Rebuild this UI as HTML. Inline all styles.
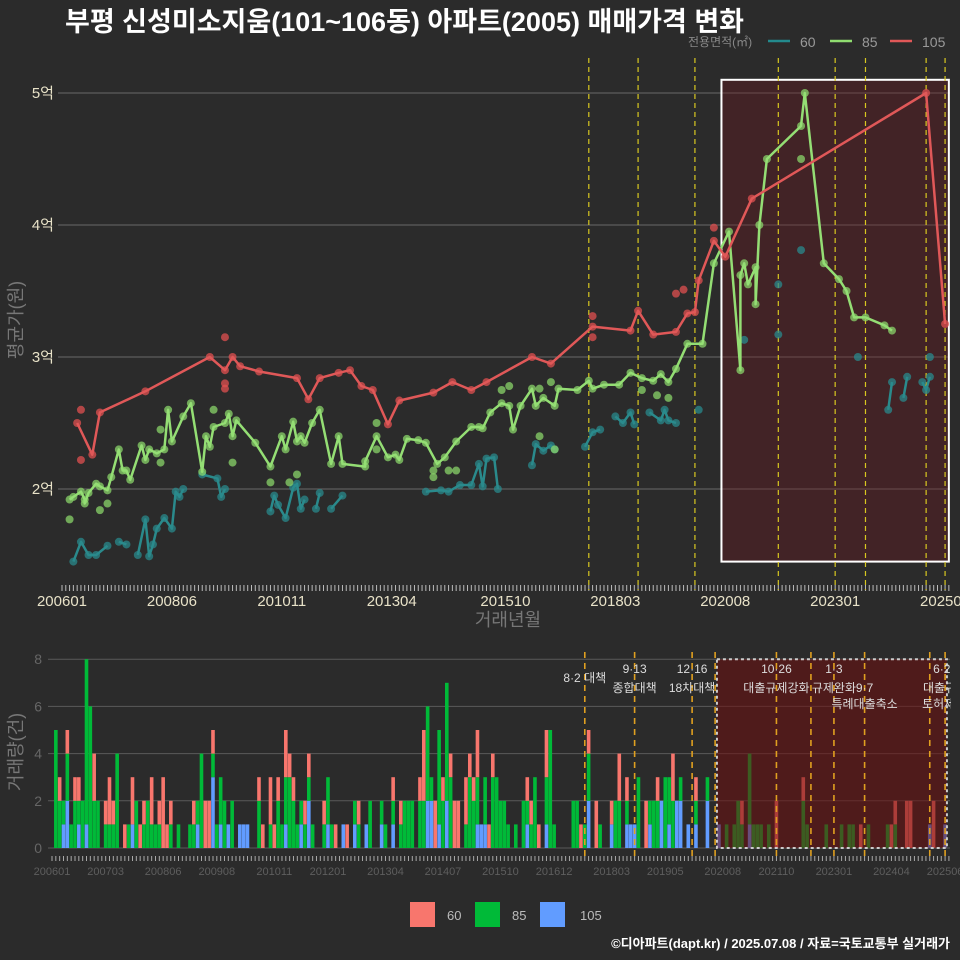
<!DOCTYPE html>
<html><head><meta charset="utf-8">
<style>
html,body{margin:0;padding:0;background:#2b2b2b;}
svg{display:block;font-family:"Liberation Sans","Noto Sans CJK KR",sans-serif;}
</style></head>
<body>
<svg id="chart" width="960" height="960" viewBox="0 0 960 960" xmlns="http://www.w3.org/2000/svg">
<rect x="0" y="0" width="960" height="960" fill="#2b2b2b"/>
<text x="65" y="31" fill="#ffffff" font-size="27" font-weight="bold">부평 신성미소지움(101~106동) 아파트(2005) 매매가격 변화</text>
<g>
<text x="688" y="46" fill="#888" font-size="12">전용면적(㎡)</text>
<line x1="768" y1="41" x2="790" y2="41" stroke="#238a8d" stroke-width="2.5"/>
<text x="800" y="47" fill="#999" font-size="14">60</text>
<line x1="830" y1="41" x2="852" y2="41" stroke="#90dc70" stroke-width="2.5"/>
<text x="862" y="47" fill="#999" font-size="14">85</text>
<line x1="890" y1="41" x2="912" y2="41" stroke="#e05858" stroke-width="2.5"/>
<text x="922" y="47" fill="#999" font-size="14">105</text>
</g>
<g id="topPanel"></g>
<g id="bottomPanel"></g>
<text transform="translate(22,320) rotate(-90)" text-anchor="middle" fill="#777" font-size="18">평균가(원)</text>
<text x="508" y="626" text-anchor="middle" fill="#777" font-size="18">거래년월</text>
<text transform="translate(22,752) rotate(-90)" text-anchor="middle" fill="#777" font-size="18">거래량(건)</text>
<g>
<rect x="410" y="902" width="25" height="25" fill="#F8766D"/>
<text x="447" y="920" fill="#bbb" font-size="13">60</text>
<rect x="475" y="902" width="25" height="25" fill="#00BA38"/>
<text x="512" y="920" fill="#bbb" font-size="13">85</text>
<rect x="540" y="902" width="25" height="25" fill="#619CFF"/>
<text x="580" y="920" fill="#bbb" font-size="13">105</text>
</g>
<text x="950" y="948" text-anchor="end" fill="#fff" font-size="13" font-weight="bold">©디아파트(dapt.kr) / 2025.07.08 / 자료=국토교통부 실거래가</text>
</svg>
<script>
// ---- price data (month index from 2006-01, value in 억) ----
const redMonths = [4,8,10,22,39,43,45,47,52,62,65,68,73,76,79,82,86,89,98,103,108,112,124,129,140,150,152,156,162,165,167,168,172,175,182,228,233];
const redValues = [2.50,2.26,2.58,2.74,3.00,2.90,3.00,2.93,2.89,2.84,2.68,2.84,2.88,2.90,2.78,2.75,2.49,2.67,2.73,2.81,2.75,2.81,3.00,2.95,3.23,3.20,3.35,3.17,3.19,3.33,3.34,3.58,3.88,3.76,4.20,5.00,3.25];
const redExtraMonths = [5,5,43,43,43,140,140,162,164,172];
const redExtraValues = [2.60,2.22,3.15,2.80,2.76,3.31,3.15,3.48,3.51,3.98];

const greenMonths = [2,3,5,6,6,7,9,10,12,13,15,16,17,18,21,22,23,25,27,28,29,32,34,37,38,39,40,43,44,45,46,51,55,58,59,61,62,63,64,66,68,71,73,74,80,80,83,86,88,89,91,94,96,99,101,104,108,110,111,113,116,118,119,121,124,125,127,130,131,136,139,140,143,147,150,153,156,158,160,162,165,169,172,176,179,179,180,181,183,183,184,186,195,196,201,205,207,209,212,217,219];
const greenValues = [1.92,1.94,1.98,1.92,1.89,1.97,2.04,2.02,1.99,2.09,2.30,2.14,2.14,2.07,2.33,2.22,2.30,2.27,2.30,2.60,2.36,2.55,2.65,2.13,2.40,2.32,2.47,2.50,2.57,2.40,2.52,2.35,2.17,2.40,2.30,2.51,2.36,2.40,2.35,2.50,2.60,2.19,2.40,2.19,2.17,2.21,2.40,2.24,2.26,2.22,2.38,2.37,2.35,2.19,2.24,2.36,2.47,2.47,2.46,2.58,2.65,2.63,2.45,2.63,2.76,2.63,2.69,2.63,2.76,2.75,2.82,2.76,2.79,2.79,2.88,2.84,2.82,2.87,2.81,2.91,3.10,3.10,3.71,3.95,2.90,3.62,3.71,3.55,3.68,3.40,4.00,4.50,4.75,5.00,3.71,3.59,3.50,3.30,3.30,3.24,3.20];
const greenExtraMonths = [2,10,12,26,26,40,45,55,60,62,83,83,98,98,102,104,116,118,126,129,126,130,153,157,160,195];
const greenExtraValues = [1.77,1.84,1.89,2.45,2.20,2.60,2.20,2.05,2.05,2.11,2.50,2.30,2.14,2.09,2.14,2.14,2.75,2.78,2.76,2.81,2.40,2.30,2.75,2.71,2.69,4.50];

// teal series: null separates segments
const tealMonths = [3,5,7,9,12,null,15,17,null,20,22,23,24,25,27,29,30,31,32,null,37,41,42,43,null,55,56,57,59,61,62,63,64,null,67,68,null,71,74,null,96,100,102,105,108,110,111,112,114,115,null,124,125,127,129,130,null,138,140,142,null,146,148,150,151,null,155,158,159,160,162,null,218,219,null,222,223,null,227,228,229];
const tealValues = [1.45,1.60,1.50,1.50,1.57,null,1.60,1.58,null,1.50,1.77,1.49,1.58,1.70,1.78,1.70,1.98,1.94,2.00,null,2.11,2.08,1.94,2.00,null,1.83,1.95,1.88,1.78,2.01,2.04,1.85,1.92,null,1.85,1.97,null,1.85,1.95,null,1.98,1.99,1.98,2.03,2.03,2.19,2.02,2.23,2.24,2.00,null,2.18,2.34,2.29,2.33,2.30,null,2.32,2.43,2.45,null,2.55,2.50,2.58,2.49,null,2.58,2.52,2.60,2.52,2.50,null,2.60,2.81,null,2.69,2.85,null,2.81,2.75,2.85];
const tealExtraMonths = [168,189,189,195,210,229,180];
const tealExtraValues = [2.60,3.55,3.17,3.81,3.00,3.00,3.13];

const priceTicks = [2,3,4,5];
const priceTickLabels = ["2억","3억","4억","5억"];
const topXLabels = ["200601","200806","201011","201304","201510","201803","202008","202301","202506"];
const policyMonthsTop = [139,152,167,189,204,212,228,233];

// ---- volume data ----
const volMonths = [1,2,3,4,5,6,7,8,9,10,11,12,14,15,16,17,19,20,21,22,23,24,25,26,27,28,29,30,31,33,36,37,38,39,40,41,42,43,44,45,46,47,49,50,51,54,55,57,58,59,60,61,62,63,64,65,66,67,68,71,72,73,74,76,77,79,80,82,83,86,87,89,91,92,93,94,96,97,98,99,100,101,102,103,104,105,106,108,109,110,111,112,113,114,115,116,117,118,119,121,123,124,125,126,127,129,130,131,136,137,138,139,140,142,143,146,147,148,150,151,152,153,155,156,157,158,159,160,161,162,163,164,166,168,171,174,176,178,179,180,182,183,184,185,187,189,196,197,202,206,208,209,211,213,218,219,220,223,224,229,230,233];
const vol60  = [0,1,0,1,0,1,1,0,0,0,2,0,1,2,1,0,1,0,2,0,1,1,0,2,0,1,3,1,1,0,0,1,0,0,2,2,1,0,0,0,0,0,0,0,0,1,1,2,1,1,0,2,1,1,0,0,1,1,0,1,0,0,1,0,1,0,1,0,0,0,0,1,1,0,0,0,1,3,0,0,2,0,1,0,1,2,2,2,1,1,2,0,0,1,1,0,0,0,0,0,0,1,1,0,1,2,0,0,0,0,1,0,1,2,0,1,0,2,1,0,0,0,2,0,0,1,0,0,0,2,0,0,0,1,0,0,0,0,0,1,0,0,0,0,0,2,1,0,0,0,0,0,1,0,0,1,1,2,2,0,2,0];
const vol85  = [5,2,1,2,1,2,1,2,7,6,2,2,1,1,1,4,0,1,0,2,0,1,2,1,1,1,0,0,1,1,1,1,1,4,0,0,1,1,2,2,0,2,0,0,0,2,0,1,0,2,1,2,3,2,1,1,1,1,1,1,2,1,0,0,0,1,1,0,2,1,1,1,1,2,2,2,2,2,4,1,0,4,2,5,3,0,0,1,3,2,2,0,2,0,3,3,2,2,1,1,2,1,1,3,0,2,5,1,2,2,0,1,2,0,1,0,2,2,1,0,0,3,0,1,2,2,0,3,2,2,0,1,0,1,1,0,1,1,2,1,3,1,1,1,1,0,2,1,1,1,1,1,0,1,1,0,1,0,0,0,0,0];
const vol105 = [0,0,1,2,0,0,1,0,1,0,0,0,0,0,0,0,0,0,1,0,0,0,0,0,0,0,0,0,0,0,0,0,1,0,0,0,3,0,1,0,1,0,1,1,1,0,0,0,0,0,0,1,0,0,0,1,0,2,0,0,1,0,0,1,0,1,0,1,0,1,0,1,0,0,0,0,0,0,2,2,0,1,0,2,0,0,0,0,0,0,1,1,1,0,0,0,0,0,0,0,0,1,0,0,0,1,0,0,0,0,0,0,2,0,0,1,0,0,1,1,1,0,0,1,0,0,2,0,1,0,2,2,1,1,2,1,0,0,0,0,1,0,0,0,0,0,0,0,0,0,0,0,0,0,0,0,0,0,0,1,0,1];
const volTicks = [0,2,4,6,8];
const bottomXLabels = ["200601","200703","200806","200908","201011","201201","201304","201407","201510","201612","201803","201905","202008","202110","202301","202404","202506"];
const policyMonthsBottom = [139,152,167,173,189,198,204,212,229,233];
const policyTop = ["8·2 대책","9·13","12·16","10·26","1·3","6·27"];
const policyTopMonths = [139,152,167,189,204,233];
const policyMid = ["종합대책","18차대책","대출규제강화","규제완화","9·7","대출규제"];
const policyMidMonths = [152,167,189,204,212,233];
const policyLow = ["특례대출축소","토허제 해제"];
const policyLowMonths = [212,227];

const NS = "http://www.w3.org/2000/svg";
function mk(tag, attrs, parent){const e=document.createElementNS(NS,tag);for(const k in attrs)e.setAttribute(k,attrs[k]);parent.appendChild(e);return e;}
function monthIndex(s){return (parseInt(s.slice(0,4))-2006)*12+parseInt(s.slice(4,6))-1;}

// ---- top axes ----
const xT = m => 62 + 3.79*m;
const yT = v => 489 - (v-2)*132;
const topG = document.getElementById('topPanel');
priceTicks.forEach((t,i)=>{
  const g = mk('line',{x1:58,x2:950,y1:yT(t),y2:yT(t),stroke:'#6a6a6a','stroke-width':1},topG);
  
  
  const lb = mk('text',{x:54,y:yT(t)+5,'text-anchor':'end',fill:'#e8e2c8','font-size':15},topG);
  lb.textContent = priceTickLabels[i];
  
  
});
for(let m=0;m<=234;m++){
  const tk = mk('line',{x1:xT(m),x2:xT(m),y1:585,y2:591,stroke:'#bbb','stroke-width':1},topG);
  
  
}
topXLabels.forEach(s=>{
  const lb = mk('text',{x:xT(monthIndex(s)),y:606,'text-anchor':'middle',fill:'#e8e2c8','font-size':15},topG);
  lb.textContent = s;
  
  
});
const hl = mk('rect',{x:xT(174),y:yT(5.1),width:xT(234)-xT(174),height:yT(1.45)-yT(5.1),fill:'rgba(110,20,30,0.35)',stroke:'#fff','stroke-width':2},topG);


policyMonthsTop.forEach(m=>{
  const l = mk('line',{x1:xT(m),x2:xT(m),y1:58,y2:590,stroke:'#d8c820','stroke-width':1.2,'stroke-dasharray':'5,4'},topG);
  
  
});
function drawSeries(months, values, color, name){
  let d='', pen=false;
  months.forEach((m,i)=>{
    if(m===null||values[i]===null){pen=false;return;}
    d += (pen?'L':'M') + xT(m).toFixed(1)+','+yT(values[i]).toFixed(1);
    pen=true;
  });
  const p = mk('path',{d:d,fill:'none',stroke:color,'stroke-width':2.5,'stroke-linejoin':'round'},topG);
  
  
}
function drawPoints(months, values, color, name){
  months.forEach((m,i)=>{
    if(m===null||values[i]===null)return;
    const c = mk('circle',{cx:xT(m),cy:yT(values[i]),r:4,fill:color,'fill-opacity':0.75},topG);
    
    
  });
}
drawPoints(tealExtraMonths,tealExtraValues,'#2a8a8c','60');
drawPoints(tealMonths,tealValues,'#2a8a8c','60');
drawSeries(tealMonths,tealValues,'#2a8a8c','60');
drawPoints(greenExtraMonths,greenExtraValues,'#8ad46a','85');
drawPoints(greenMonths,greenValues,'#8ad46a','85');
drawSeries(greenMonths,greenValues,'#94de74','85');
drawPoints(redExtraMonths,redExtraValues,'#e05050','105');
drawPoints(redMonths,redValues,'#e05050','105');
drawSeries(redMonths,redValues,'#e05858','105');

// ---- bottom axes ----
const xB = m => 52 + 3.833*m;
const yB = c => 848 - 23.6*c;
const botG = document.getElementById('bottomPanel');
volTicks.forEach(t=>{
  const g = mk('line',{x1:48,x2:950,y1:yB(t),y2:yB(t),stroke:'#5a5a5a','stroke-width':1},botG);
  
  
  const lb = mk('text',{x:42,y:yB(t)+5,'text-anchor':'end',fill:'#666','font-size':14},botG);
  lb.textContent = t;
  
  
});
for(let m=0;m<=234;m++){
  const tk = mk('line',{x1:xB(m),x2:xB(m),y1:856,y2:861,stroke:'#aaa','stroke-width':1},botG);
  
  
}
bottomXLabels.forEach(s=>{
  const lb = mk('text',{x:xB(monthIndex(s)),y:875,'text-anchor':'middle',fill:'#5e5e5e','font-size':11},botG);
  lb.textContent = s;
  
  
});
volMonths.forEach((m,i)=>{
  const x = xB(m)-1.8, w = 3.6;
  let base = 0;
  [[vol105[i],'#619CFF','105'],[vol85[i],'#00BA38','85'],[vol60[i],'#F8766D','60']].forEach(([c,col,nm])=>{
    if(!c)return;
    const r = mk('rect',{x:x,y:yB(base+c),width:w,height:yB(base)-yB(base+c),fill:col},botG);
    
    
    base += c;
  });
});
const hb = mk('rect',{x:xB(174)-2,y:yB(8),width:xB(234)-xB(174),height:yB(0)-yB(8),fill:'rgba(110,15,15,0.55)',stroke:'#ccc','stroke-width':2,'stroke-dasharray':'3,3'},botG);


policyMonthsBottom.forEach(m=>{
  const l = mk('line',{x1:xB(m),x2:xB(m),y1:652,y2:858,stroke:'#e0a020','stroke-width':1.6,'stroke-dasharray':'6,5'},botG);
  
  
});
const clip = mk('clipPath',{id:'annClip'},botG);
mk('rect',{x:0,y:640,width:951,height:80},clip);
const ann = mk('g',{'clip-path':'url(#annClip)'},botG);
policyTop.forEach((s,i)=>{
  const t = mk('text',{x:xB(policyTopMonths[i]),y:i===0?682:673,'text-anchor':'middle',fill:'#ddd','font-size':12},ann);
  t.textContent = s;
  
  
});
policyMid.forEach((s,i)=>{
  const t = mk('text',{x:xB(policyMidMonths[i]),y:692,'text-anchor':'middle',fill:'#ddd','font-size':12},ann);
  t.textContent = s;
  
  
});
policyLow.forEach((s,i)=>{
  const t = mk('text',{x:xB(policyLowMonths[i]),y:708,'text-anchor':i===1?'start':'middle',fill:'#ddd','font-size':12},ann);
  t.textContent = s;
  
  
});
</script>
</body></html>
